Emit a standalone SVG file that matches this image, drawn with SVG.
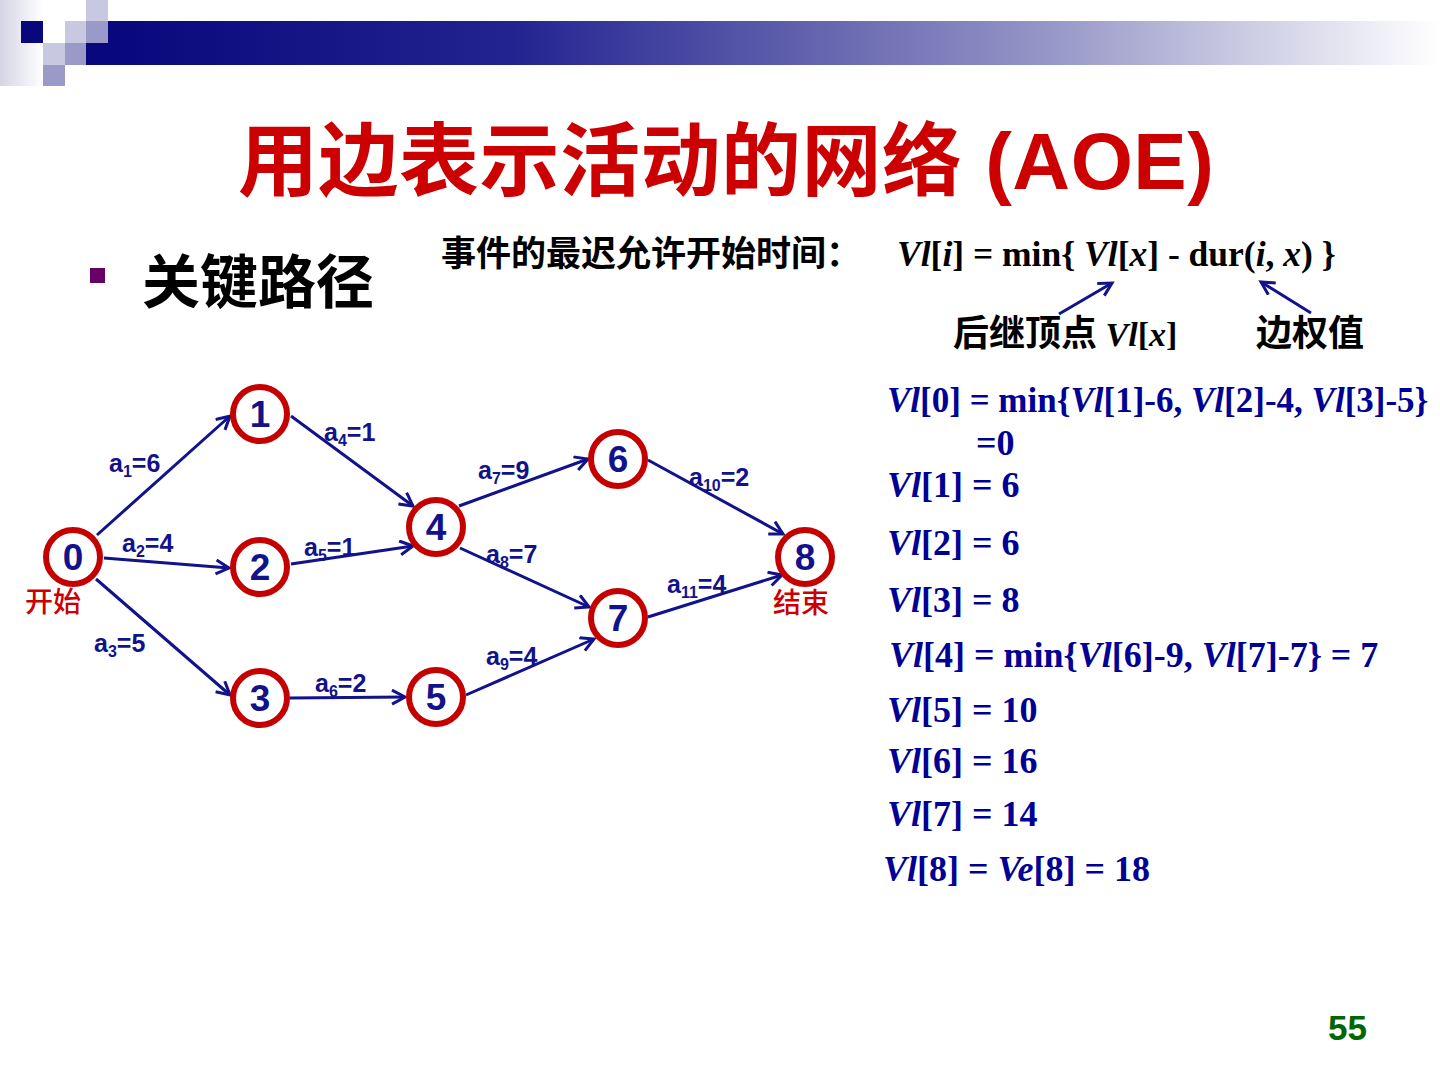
<svg xmlns="http://www.w3.org/2000/svg" width="1440" height="1080" viewBox="0 0 1440 1080">
<defs>
<linearGradient id="bar" x1="0" y1="0" x2="1" y2="0">
<stop offset="0" stop-color="#08087c"/>
<stop offset="0.3" stop-color="#222290"/>
<stop offset="0.7" stop-color="#9494c6"/>
<stop offset="1" stop-color="#ffffff"/>
</linearGradient>
<linearGradient id="fade" x1="0" y1="0" x2="1" y2="0">
<stop offset="0" stop-color="#d4d4e6"/>
<stop offset="1" stop-color="#ffffff"/>
</linearGradient>
<marker id="arr" markerUnits="userSpaceOnUse" markerWidth="20" markerHeight="20" refX="15" refY="8" orient="auto">
<path d="M2,1 L15,8 L2,15" fill="none" stroke="#12128a" stroke-width="3" stroke-linejoin="miter"/>
</marker>
<style>
.cjk{font-family:"Noto Sans CJK SC",sans-serif;font-weight:700}
.tm{font-family:"Liberation Serif","Noto Sans CJK SC",serif;font-weight:700}
.it{font-style:italic}
.node circle{fill:#ffffff;stroke:#c40000;stroke-width:6}
.node text{font-family:"Liberation Sans",sans-serif;font-weight:700;font-size:37px;fill:#12128a;text-anchor:middle}
.edge{stroke:#12128a;stroke-width:3;fill:none;marker-end:url(#arr)}
.lbl{font-family:"Liberation Sans",sans-serif;font-weight:700;font-size:25px;fill:#12128a}
.rt{font-family:"Liberation Serif",serif;font-weight:700;font-size:36px;fill:#000094}
</style>
</defs>
<g id="header">
<rect x="0" y="0" width="43" height="86" fill="url(#fade)"/>
<rect x="108" y="21" width="1332" height="44" fill="url(#bar)"/>
<rect x="86" y="43" width="22" height="22" fill="#08087c"/>
<rect x="86" y="0" width="22" height="21" fill="#c8c8e0"/>
<rect x="21" y="21" width="22" height="22" fill="#08087c"/>
<rect x="43" y="21" width="22" height="22" fill="#ffffff"/>
<rect x="65" y="21" width="21" height="22" fill="#c8c8e0"/>
<rect x="86" y="21" width="22" height="22" fill="#9a9ac8"/>
<rect x="43" y="43" width="22" height="22" fill="#c8c8e0"/>
<rect x="65" y="43" width="21" height="22" fill="#9a9ac8"/>
<rect x="43" y="65" width="22" height="21" fill="#9a9ac8"/>
</g>
<text x="238" y="189" font-family="Liberation Sans, Noto Sans CJK SC, sans-serif" font-weight="700" font-size="80" letter-spacing="0.5" fill="#cc0000">用边表示活动的网络 (AOE)</text>
<rect x="90" y="268" width="15" height="15" fill="#660066"/>
<text x="142" y="303" class="cjk" font-size="58" fill="#000">关键路径</text>
<text x="441" y="266" class="cjk" font-size="35" fill="#000">事件的最迟允许开始时间：</text>
<text x="897" y="266" class="tm" font-size="35.5" fill="#000"><tspan class="it">Vl</tspan>[<tspan class="it">i</tspan>] = min{ <tspan class="it">Vl</tspan>[<tspan class="it">x</tspan>] - dur(<tspan class="it">i</tspan>, <tspan class="it">x</tspan>) }</text>
<g id="pointers">
<line x1="1059" y1="314" x2="1112" y2="283" stroke="#12128a" stroke-width="3" marker-end="url(#arr)"/>
<line x1="1311" y1="313" x2="1261" y2="282" stroke="#12128a" stroke-width="3" marker-end="url(#arr)"/>
</g>
<text x="953" y="346" fill="#000"><tspan class="cjk" font-size="36">后继顶点</tspan><tspan class="tm" font-size="34"> <tspan class="it">Vl</tspan>[<tspan class="it">x</tspan>]</tspan></text>
<text x="1256" y="346" class="cjk" font-size="36" fill="#000">边权值</text>
<g id="connectors">
<path class="edge" d="M97,535 L230,416"/>
<path class="edge" d="M104,558 L229,568"/>
<path class="edge" d="M96,579 L230,695"/>
<path class="edge" d="M291,416 L413,506"/>
<path class="edge" d="M291,564 L413,546"/>
<path class="edge" d="M290,698 L405,697"/>
<path class="edge" d="M459,506 L588,459"/>
<path class="edge" d="M460,548 L589,607"/>
<path class="edge" d="M466,695 L594,639"/>
<path class="edge" d="M648,460 L783,534"/>
<path class="edge" d="M648,617 L782,575"/>
<text class="lbl" x="109" y="472">a<tspan font-size="16" dy="5">1</tspan><tspan dy="-5">=6</tspan></text>
<text class="lbl" x="122" y="552">a<tspan font-size="16" dy="5">2</tspan><tspan dy="-5">=4</tspan></text>
<text class="lbl" x="94" y="652">a<tspan font-size="16" dy="5">3</tspan><tspan dy="-5">=5</tspan></text>
<text class="lbl" x="324" y="441">a<tspan font-size="16" dy="5">4</tspan><tspan dy="-5">=1</tspan></text>
<text class="lbl" x="304" y="556">a<tspan font-size="16" dy="5">5</tspan><tspan dy="-5">=1</tspan></text>
<text class="lbl" x="315" y="692">a<tspan font-size="16" dy="5">6</tspan><tspan dy="-5">=2</tspan></text>
<text class="lbl" x="478" y="479">a<tspan font-size="16" dy="5">7</tspan><tspan dy="-5">=9</tspan></text>
<text class="lbl" x="486" y="563">a<tspan font-size="16" dy="5">8</tspan><tspan dy="-5">=7</tspan></text>
<text class="lbl" x="486" y="665">a<tspan font-size="16" dy="5">9</tspan><tspan dy="-5">=4</tspan></text>
<text class="lbl" x="689" y="486">a<tspan font-size="16" dy="5">10</tspan><tspan dy="-5">=2</tspan></text>
<text class="lbl" x="667" y="593">a<tspan font-size="16" dy="5">11</tspan><tspan dy="-5">=4</tspan></text>
</g>
<g id="n0" class="node"><circle cx="73" cy="557" r="27"/><text x="73" y="570">0</text></g>
<g id="n1" class="node"><circle cx="260" cy="414" r="27"/><text x="260" y="427">1</text></g>
<g id="n2" class="node"><circle cx="260" cy="567" r="27"/><text x="260" y="580">2</text></g>
<g id="n3" class="node"><circle cx="260" cy="698" r="27"/><text x="260" y="711">3</text></g>
<g id="n4" class="node"><circle cx="436" cy="527" r="27"/><text x="436" y="540">4</text></g>
<g id="n5" class="node"><circle cx="436" cy="697" r="27"/><text x="436" y="710">5</text></g>
<g id="n6" class="node"><circle cx="618" cy="459" r="27"/><text x="618" y="472">6</text></g>
<g id="n7" class="node"><circle cx="618" cy="618" r="27"/><text x="618" y="631">7</text></g>
<g id="n8" class="node"><circle cx="805" cy="557" r="27"/><text x="805" y="570">8</text></g>
<text x="25" y="612" class="cjk" font-size="28" fill="#cc0000" style="font-weight:500">开始</text>
<text x="773" y="613" class="cjk" font-size="28" fill="#cc0000" style="font-weight:500">结束</text>
<g id="values">
<text class="rt" x="887" y="412" font-size="35" style="font-size:35px"><tspan class="it">Vl</tspan>[0] = min{<tspan class="it">Vl</tspan>[1]-6, <tspan class="it">Vl</tspan>[2]-4, <tspan class="it">Vl</tspan>[3]-5}</text>
<text class="rt" x="976" y="455">=0</text>
<text class="rt" x="887" y="497"><tspan class="it">Vl</tspan>[1] = 6</text>
<text class="rt" x="887" y="555"><tspan class="it">Vl</tspan>[2] = 6</text>
<text class="rt" x="887" y="612"><tspan class="it">Vl</tspan>[3] = 8</text>
<text class="rt" x="889" y="667"><tspan class="it">Vl</tspan>[4] = min{<tspan class="it">Vl</tspan>[6]-9, <tspan class="it">Vl</tspan>[7]-7} = 7</text>
<text class="rt" x="887" y="722"><tspan class="it">Vl</tspan>[5] = 10</text>
<text class="rt" x="887" y="773"><tspan class="it">Vl</tspan>[6] = 16</text>
<text class="rt" x="887" y="826"><tspan class="it">Vl</tspan>[7] = 14</text>
<text class="rt" x="883" y="881"><tspan class="it">Vl</tspan>[8] = <tspan class="it">Ve</tspan>[8] = 18</text>
</g>
<text x="1328" y="1040" font-family="Liberation Sans, sans-serif" font-weight="700" font-size="35" fill="#006600">55</text>
</svg>
